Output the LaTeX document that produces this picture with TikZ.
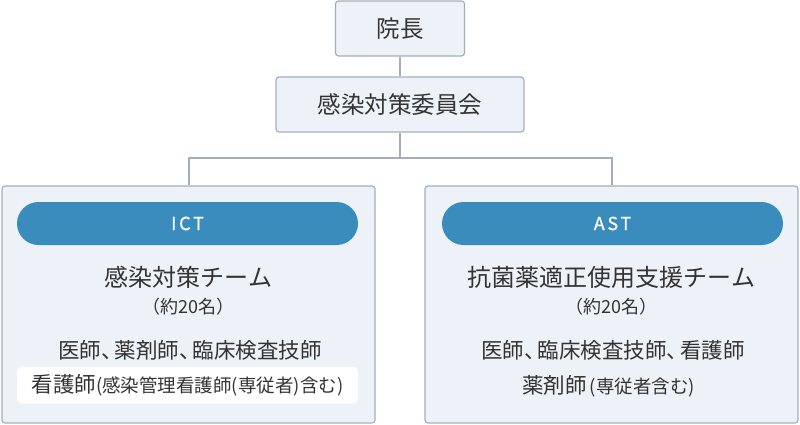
\documentclass[tikz,border=0pt]{standalone}
\usepackage{fontspec}
\setmainfont{Noto Sans CJK JP}
\definecolor{boxfill}{HTML}{EDF2F8}
\definecolor{boxline}{HTML}{A3AEBD}
\definecolor{pillblue}{HTML}{3A8CBD}
\definecolor{txt}{HTML}{333333}
\newcommand{\tc}{\makebox[0.62em][l]{、}}
\newcommand{\bigf}{\fontsize{21.5pt}{25pt}\selectfont}
\newcommand{\smallf}{\fontsize{18.5pt}{22pt}\selectfont}
\begin{document}
\begin{tikzpicture}[x=1pt,y=-1pt,
  box/.style={draw=boxline,fill=boxfill,line width=1.2pt,rounded corners=3pt,inner sep=0pt,text=txt},
  pill/.style={fill=pillblue,rounded corners=21.5pt,inner sep=0pt,text=white,minimum width=341pt,minimum height=43pt},
  whitebox/.style={fill=white,rounded corners=5pt,inner sep=0pt,minimum width=341pt,minimum height=37pt,text=txt},
  lbl/.style={inner sep=0pt,text=txt},
  conn/.style={draw=boxline,line width=2pt}]
\useasboundingbox (0,0) rectangle (800,425);
\node[box,minimum width=129pt,minimum height=55pt,font=\fontsize{23.5pt}{26pt}\selectfont] (dir) at (400,28.5) {院長};
\node[box,minimum width=248pt,minimum height=55pt,font=\fontsize{23.5pt}{26pt}\selectfont] (comm) at (400,104.5) {感染対策委員会};
\node[box,minimum width=373pt,minimum height=237pt] (ict) at (188.5,304.5) {};
\node[box,minimum width=373pt,minimum height=237pt] (ast) at (611.5,304.5) {};
\coordinate (jl) at (188.5,158);
\coordinate (jr) at (611.5,158);
\coordinate (jm) at (400,158);
\draw[conn] (dir.south) -- (comm.north);
\draw[conn] (comm.south) -- (jm);
\draw[conn] (ict.north) -- (jl) -- (jr) -- (ast.north);
% ICT
\node[pill,font=\fontsize{18pt}{20pt}\selectfont\addfontfeature{LetterSpace=15,FakeBold=0.6}] (ictp) at (187.5,223.5) {ICT};
\node[lbl,font=\fontsize{24pt}{28pt}\selectfont] (ictt) at (188.5,277) {感染対策チーム};
\node[lbl,font=\fontsize{18pt}{22pt}\selectfont] (ictn) at (188.5,307) {（約20名）};
\node[lbl,font=\bigf] (ictm) at (190,350) {医師\tc 薬剤師\tc 臨床検査技師};
\node[whitebox] (ictw) at (187.5,385) {};
\node[lbl] (ictwt) at (ictw) {\bigf 看護師\smallf(感染管理看護師(専従者)含む)};
% AST
\node[pill,font=\fontsize{18pt}{20pt}\selectfont\addfontfeature{LetterSpace=15,FakeBold=0.6}] (astp) at (612.5,223.5) {AST};
\node[lbl,font=\fontsize{24pt}{28pt}\selectfont] (astt) at (611.5,277) {抗菌薬適正使用支援チーム};
\node[lbl,font=\fontsize{18pt}{22pt}\selectfont] (astn) at (611.5,307) {（約20名）};
\node[lbl,font=\bigf] (astm) at (613,350) {医師\tc 臨床検査技師\tc 看護師};
\node[lbl] (astm2) at (608.5,386) {\bigf 薬剤師\smallf\,(専従者含む)};
\end{tikzpicture}
\end{document}
